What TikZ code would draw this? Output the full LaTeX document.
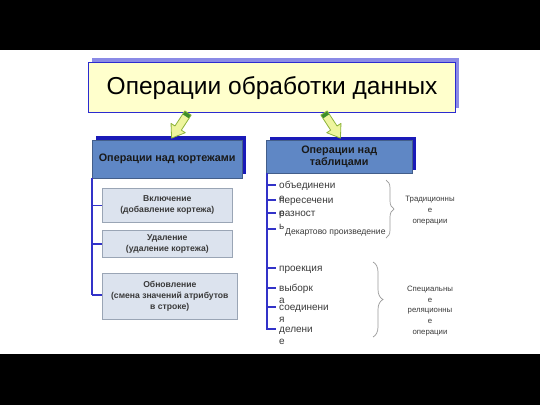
\documentclass[tikz,border=0pt]{standalone}
\usepackage{fontspec}
\setmainfont{Liberation Sans}
\usetikzlibrary{decorations.pathreplacing}
\definecolor{titlefill}{HTML}{FFFFCC}
\definecolor{titleline}{HTML}{2B2BD0}
\definecolor{titleshadow}{HTML}{8A8AE6}
\definecolor{headfill}{HTML}{5F87C5}
\definecolor{headshadow}{HTML}{1A1AB8}
\definecolor{subfill}{HTML}{DCE3EE}
\definecolor{subline}{HTML}{9AA5B5}
\definecolor{spine}{HTML}{3232C8}
\definecolor{arrfill}{HTML}{EEF59E}
\definecolor{arrline}{HTML}{8DB33A}
\definecolor{arrband}{HTML}{3E8E2A}
\definecolor{txtgray}{HTML}{3A3A3A}
\tikzset{
  headbox/.style={fill=headfill, draw=headfill!70!black, line width=0.4pt, inner sep=0pt, text=black!90, font=\bfseries\fontsize{10.8}{12.8}\selectfont, align=center},
  subbox/.style={fill=subfill, draw=subline, line width=0.6pt, inner sep=0pt, font=\bfseries\fontsize{8.6}{11}\selectfont, text=txtgray, align=center},
  spineline/.style={draw=spine, line width=1.5pt},
  listtxt/.style={anchor=base west, inner sep=0pt, align=left, text=txtgray, font=\fontsize{10}{13}\selectfont},
  bracetxt/.style={inner sep=0pt, align=center, text=txtgray, font=\fontsize{7.8}{10.9}\selectfont},
  bracepath/.style={draw=gray!80, line width=0.7pt, decorate, decoration={brace, amplitude=8pt}},
  blockarrow/.style={fill=arrfill, draw=arrline, line width=0.8pt, line join=round}
}
\begin{document}
\begin{tikzpicture}[x=1pt,y=-1pt]
\useasboundingbox (0,0) rectangle (540,405);
\fill[black] (0,0) rectangle (540,405);
\fill[white] (0,50) rectangle (540,354);

% title
\fill[titleshadow] (92,58) rectangle (459,108);
\node[draw=titleline, fill=titlefill, line width=1.2pt, minimum width=367pt, minimum height=50pt, inner sep=0pt, anchor=north west,
  font=\fontsize{24.5}{28}\selectfont] (title) at (88,62) {Операции обработки данных};

% headers
\fill[headshadow] (96,136) rectangle (246,174);
\node[headbox, minimum width=150pt, minimum height=38pt, anchor=north west] (hleft) at (92,140) {Операции над кортежами};
\fill[headshadow] (270,136.5) rectangle (416,169.5);
\node[headbox, minimum width=146pt, minimum height=33pt, anchor=north west] (hright) at (266,140) {Операции над\\таблицами};

% block arrows
\coordinate (a1) at (188,113);
\coordinate (a2) at (324,113);
\begin{scope}[shift={(a1)}, rotate=-123.2]
  \path[blockarrow] (0,-3.8) -- (18,-3.8) -- (18,-8.5) -- (30,0) -- (18,8.5) -- (18,3.8) -- (0,3.8) -- cycle;
  \fill[arrband] (0.4,-3.4) rectangle (4,3.4);
\end{scope}
\begin{scope}[shift={(a2)}, rotate=-56.8]
  \path[blockarrow] (0,-3.8) -- (18,-3.8) -- (18,-8.5) -- (30,0) -- (18,8.5) -- (18,3.8) -- (0,3.8) -- cycle;
  \fill[arrband] (0.4,-3.4) rectangle (4,3.4);
\end{scope}

% left sub boxes
\node[subbox, minimum width=130pt, minimum height=34pt, anchor=north west] (s1) at (102,188) {Включение\\(добавление кортежа)};
\node[subbox, minimum width=130pt, minimum height=27pt, anchor=north west] (s2) at (102,230) {Удаление\\(удаление кортежа)};
\node[subbox, minimum width=135pt, minimum height=46pt, anchor=north west] (s3) at (102,273) {Обновление\\(смена значений атрибутов\\в строке)};

\coordinate (ls) at (92,178);
\coordinate (le) at (92,295);
\draw[spineline] (ls) -- (le);
\draw[spineline] (ls |- s1.west) -- (s1.west);
\draw[spineline] (ls |- s2.west) -- (s2.west);
\draw[spineline] (le) -- (s3.west |- le);

% right spine
\coordinate (rs) at (267,173);
\coordinate (re) at (267,330);
\draw[spineline] (rs) -- (re);

\node[listtxt] (o1) at (279,201.5) {объединени\\е};
\node[listtxt] (o2) at (279,216.5) {пересечени\\е};
\node[listtxt] (o3) at (279,229.5) {разност\\ь};
\node[listtxt, font=\fontsize{8.6}{10}\selectfont] (o4) at (285,234.5) {Декартово произведение};
\node[listtxt] (o5) at (279,271.5) {проекция};
\node[listtxt, font=\fontsize{10}{12.5}\selectfont] (o6) at (279,303.5) {выборк\\а};
\node[listtxt, font=\fontsize{10}{12.5}\selectfont] (o7) at (279,322.5) {соединени\\я};
\node[listtxt, font=\fontsize{10}{12.5}\selectfont] (o8) at (279,344.5) {делени\\е};

\foreach \y in {185,200,213,229,268,288,307,329}{
  \draw[spineline] (267,\y) -- (276,\y);
}

% braces
\draw[bracepath] (386,180) -- (386,238);
\draw[bracepath, decoration={amplitude=10pt}] (373,262) -- (373,337);
\node[bracetxt] (tr) at (430,211) {Традиционны\\е\\операции};
\node[bracetxt] (sp) at (430,311) {Специальны\\е\\реляционны\\е\\операции};
\end{tikzpicture}
\end{document}
